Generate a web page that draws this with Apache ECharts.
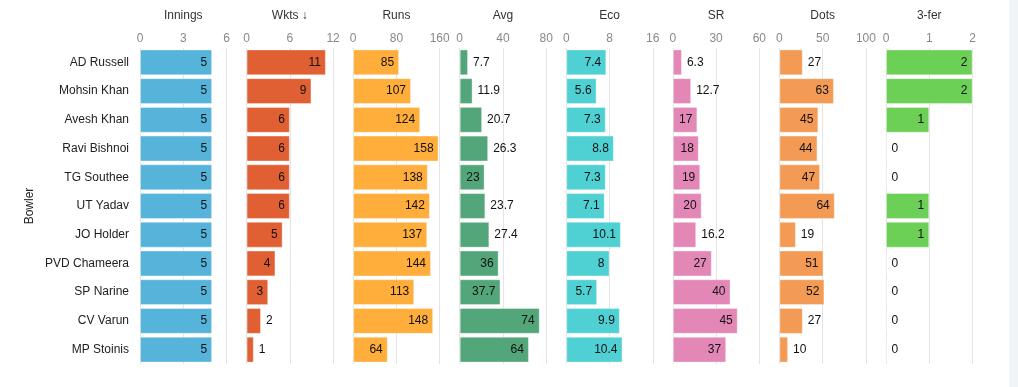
<!DOCTYPE html>
<html><head><meta charset="utf-8">
<script src="https://cdn.jsdelivr.net/npm/echarts@6/dist/echarts.min.js"></script>
<style>html,body{margin:0;padding:0;background:#fff}#c{width:1018px;height:387px}</style>
</head><body><div id="c"></div>
<script>
const bowlers = ["AD Russell","Mohsin Khan","Avesh Khan","Ravi Bishnoi","TG Southee","UT Yadav","JO Holder","PVD Chameera","SP Narine","CV Varun","MP Stoinis"];
const innings = [5,5,5,5,5,5,5,5,5,5,5];
const wkts = [11,9,6,6,6,6,5,4,3,2,1];
const runs = [85,107,124,158,138,142,137,144,113,148,64];
const avg = [7.7,11.9,20.7,26.3,23,23.7,27.4,36,37.7,74,64];
const eco = [7.4,5.6,7.3,8.8,7.3,7.1,10.1,8,5.7,9.9,10.4];
const sr = [6.3,12.7,17,18,19,20,16.2,27,40,45,37];
const dots = [27,63,45,44,47,64,19,51,52,27,10];
const threeFer = [2,2,1,0,0,1,1,0,0,0,0];
const panelTitles = ["Innings","Wkts ↓","Runs","Avg","Eco","SR","Dots","3-fer"];
const axisMax = [6,12,160,80,16,60,100,2];
const axisInterval = [3,6,80,40,8,30,50,1];

const panels = [innings,wkts,runs,avg,eco,sr,dots,threeFer];
const colors = ['#56b4db','#e05f33','#ffad3b','#53a67a','#4fd0d3','#e388b6','#f39a54','#6ccf56'];
const FONT = 'Liberation Sans, Arial, sans-serif';
const L0 = 140, STEP = 106.57, W = 86.5, TOP = 48, H = 316;

const cv = document.createElement('canvas').getContext('2d');
cv.font = '12px ' + FONT;
function tw(s){ return cv.measureText(s).width; }

const grids=[], xAxes=[], yAxes=[], series=[];
panels.forEach((vals,i)=>{
  grids.push({left: L0 + i*STEP, top: TOP, width: W, height: H, containLabel:false});
  xAxes.push({type:'value', gridIndex:i, position:'top', min:0, max:axisMax[i], interval:axisInterval[i],
    name: panelTitles[i], nameLocation:'middle', nameGap:26,
    nameTextStyle:{color:'#333', fontSize:12, fontFamily:FONT},
    axisLine:{show:false}, axisTick:{show:false},
    axisLabel:{color:'#888', fontSize:12, fontFamily:FONT, margin:3},
    splitLine:{show:true, lineStyle:{color:'#e4e4e4', width:1}}});
  yAxes.push({type:'category', gridIndex:i, data:bowlers, inverse:true,
    name: i===0 ? 'Bowler' : '', nameLocation:'middle', nameGap:104, nameRotate:90,
    nameTextStyle:{color:'#222', fontSize:12, fontFamily:FONT},
    axisLine:{show:false}, axisTick:{show:false},
    axisLabel:{show: i===0, color:'#222', fontSize:12, fontFamily:FONT, margin:11},
    splitLine:{show:false}});
  series.push({type:'bar', xAxisIndex:i, yAxisIndex:i, barCategoryGap:'10%',
    itemStyle:{color:colors[i], borderColor:'rgba(255,255,255,0.35)', borderWidth:1},
    data: vals.map(v=>{
      const px = v/axisMax[i]*W;
      const inside = px > tw(String(v)) + 11;
      return {value:v, label:{show:true, position: inside?'insideRight':'right', distance:5,
        color:'#111', fontSize:12, fontFamily:FONT}};
    })
  });
});

const chart = echarts.init(document.getElementById('c'), null, {renderer:'canvas'});
chart.setOption({
  animation:false,
  backgroundColor:'#fff',
  graphic:[{type:'rect', right:0, top:0, shape:{width:9, height:387}, style:{fill:'#f0f3f8'}}],
  grid:grids, xAxis:xAxes, yAxis:yAxes, series:series
});
</script></body></html>
